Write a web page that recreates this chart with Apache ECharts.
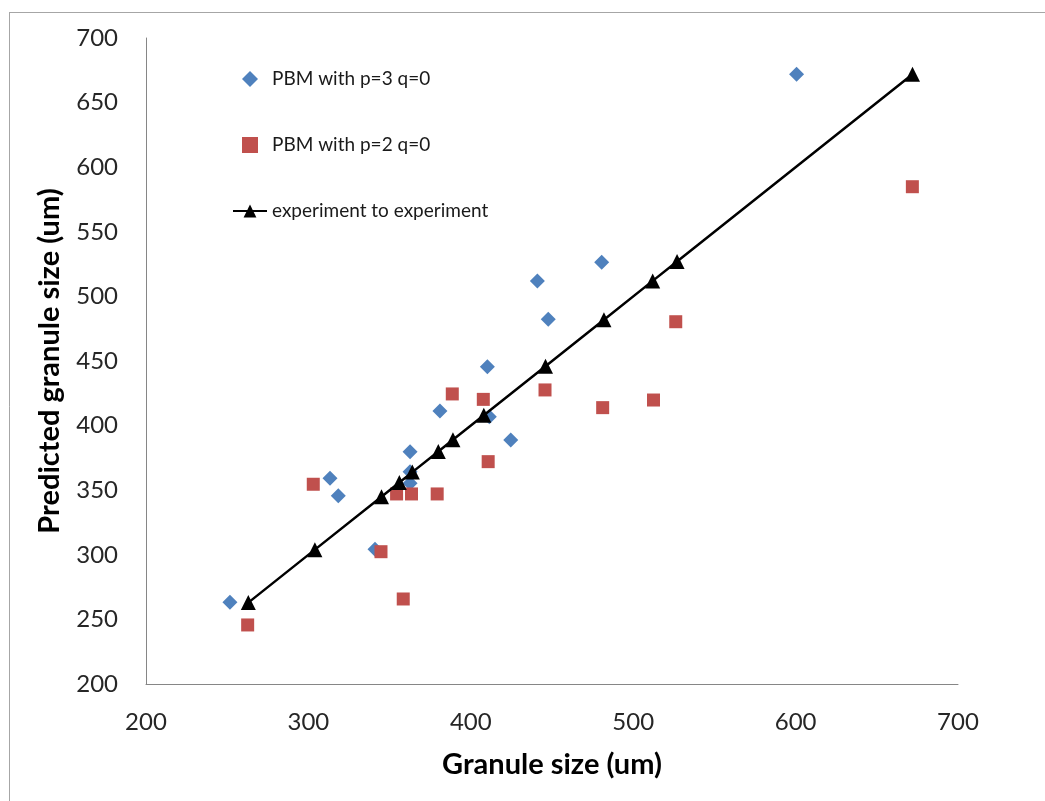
<!DOCTYPE html>
<html>
<head>
<meta charset="utf-8">
<script src="https://cdn.jsdelivr.net/npm/echarts@6/dist/echarts.min.js"></script>
<style>
html,body{margin:0;padding:0;background:#fff;}
#chart{width:1045px;height:801px;}
</style>
</head>
<body>
<div id="chart"></div>
<script>
// Data
const seriesNames = ['PBM with p=3 q=0', 'PBM with p=2 q=0', 'experiment to experiment'];

const p3X = [251.7, 313.3, 318.4, 341.0, 362.6, 362.6, 362.6, 381.0, 410.2, 411.4, 424.6, 441.0, 447.7, 480.6, 600.6];
const p3Y = [263.2, 359.2, 345.7, 304.3, 379.8, 364.3, 355.3, 411.3, 445.6, 406.9, 388.9, 511.9, 482.3, 526.4, 671.9];

const p2X = [262.6, 303.0, 344.7, 354.3, 358.4, 363.5, 379.3, 388.6, 407.7, 410.7, 445.7, 481.2, 512.5, 526.2, 671.9];
const p2Y = [245.7, 354.6, 302.4, 347.1, 265.8, 347.1, 347.1, 424.5, 420.3, 372.1, 427.6, 413.9, 419.8, 480.4, 584.9];

const expX = [263, 304, 345, 356, 364, 380, 389, 408, 446, 482, 512, 527, 672];
const expY = [263, 304, 345, 356, 364, 380, 389, 408, 446, 482, 512, 527, 672];

const xTicks = [200, 300, 400, 500, 600, 700];
const yTicks = [200, 250, 300, 350, 400, 450, 500, 550, 600, 650, 700];

const pairs = (xs, ys) => xs.map((x, i) => [x, ys[i]]);

const FONT = 'Lato';
const DIAMOND_ICON = 'path://M0,-1L1,0L0,1L-1,0Z';
const SQUARE_ICON = 'path://M0,0L1,0L1,1L0,1Z';

const chart = echarts.init(document.getElementById('chart'), null, {renderer: 'canvas'});
chart.setOption({
  backgroundColor: '#ffffff',
  animation: false,
  textStyle: {fontFamily: FONT},
  graphic: [
    {type: 'line', shape: {x1: 9, y1: 12.5, x2: 1045, y2: 12.5}, style: {stroke: '#a6a6a6', lineWidth: 1}},
    {type: 'line', shape: {x1: 9.5, y1: 12.5, x2: 9.5, y2: 801}, style: {stroke: '#a6a6a6', lineWidth: 1}}
  ],
  grid: {left: 146, top: 38, width: 812, height: 646},
  legend: {
    orient: 'vertical',
    left: 232,
    top: 69,
    padding: 0,
    itemWidth: 34,
    itemHeight: 16,
    itemGap: 46,
    symbolKeepAspect: true,
    textStyle: {fontFamily: FONT, fontSize: 19, color: '#1a1a1a', lineHeight: 20},
    data: [
      {name: seriesNames[0], icon: DIAMOND_ICON},
      {name: seriesNames[1], icon: SQUARE_ICON},
      {name: seriesNames[2]}
    ]
  },
  xAxis: {
    type: 'value',
    min: xTicks[0],
    max: xTicks[xTicks.length - 1],
    interval: xTicks[1] - xTicks[0],
    name: 'Granule size (um)',
    nameLocation: 'middle',
    nameGap: 66,
    nameTextStyle: {fontFamily: FONT, fontSize: 29, fontWeight: 'bold', color: '#000'},
    axisLine: {show: true, lineStyle: {color: '#868686', width: 1}},
    axisTick: {show: false},
    splitLine: {show: false},
    axisLabel: {fontFamily: FONT, fontSize: 24, color: '#262626', margin: 26}
  },
  yAxis: {
    type: 'value',
    min: yTicks[0],
    max: yTicks[yTicks.length - 1],
    interval: yTicks[1] - yTicks[0],
    name: 'Predicted granule size (um)',
    nameLocation: 'middle',
    nameGap: 82,
    nameTextStyle: {fontFamily: FONT, fontSize: 29, fontWeight: 'bold', color: '#000'},
    axisLine: {show: true, lineStyle: {color: '#868686', width: 1}},
    axisTick: {show: false},
    splitLine: {show: false},
    axisLabel: {fontFamily: FONT, fontSize: 24, color: '#262626', margin: 28}
  },
  series: [
    {
      name: seriesNames[0],
      type: 'scatter',
      symbol: 'diamond',
      symbolSize: 15,
      itemStyle: {color: '#4F81BD', opacity: 1},
      data: pairs(p3X, p3Y)
    },
    {
      name: seriesNames[1],
      type: 'scatter',
      symbol: 'rect',
      symbolSize: 13,
      itemStyle: {color: '#C0504D', opacity: 1},
      data: pairs(p2X, p2Y)
    },
    {
      name: seriesNames[2],
      type: 'line',
      symbol: 'triangle',
      symbolSize: 15,
      showAllSymbol: true,
      lineStyle: {color: '#000', width: 2.5},
      itemStyle: {color: '#000', opacity: 1},
      data: pairs(expX, expY)
    }
  ]
});
</script>
</body>
</html>
